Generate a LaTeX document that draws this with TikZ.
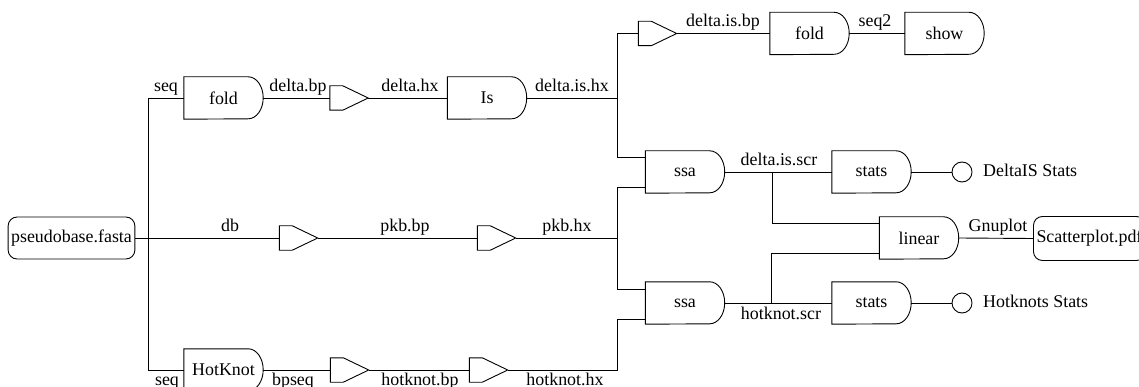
\documentclass[tikz,border=0pt]{standalone}
\usepackage{fontspec}
\setmainfont{Liberation Serif}
\begin{document}
\begin{tikzpicture}[x=1pt,y=-1pt,
  every node/.style={font=\fontsize{17.9}{20}\selectfont, inner sep=0pt},
  box/.style={minimum width=79pt, minimum height=42pt},
  conv/.style={minimum width=38pt, minimum height=24pt},
  file/.style={draw, line width=0.9pt, rounded corners=9pt, minimum height=42pt, inner xsep=3pt},
  lab/.style={anchor=base},
  wire/.style={line width=0.9pt},
  outline/.style={line width=0.9pt},
  term/.style={circle, draw, line width=0.9pt, minimum size=20pt}
]
\useasboundingbox (0,0) rectangle (1139,387);

% nodes
\node[file, minimum width=125pt] (src) at (71.5,238) {pseudobase.fasta};
\node[box] (fold1) at (223.5,98) {fold};
\node[conv] (cd) at (349,98) {};
\node[box] (is) at (487,98) {Is};
\node[conv] (ct) at (657.5,33.5) {};
\node[box] (fold2) at (809.5,33.5) {fold};
\node[box] (show) at (944.5,33.5) {show};
\node[box] (ssa1) at (685,172) {ssa};
\node[box] (stats1) at (871.5,172) {stats};
\node[term] (c1) at (962,172) {};
\node[anchor=base west] (t1) at (983,177) {DeltaIS Stats};
\node[box] (linear) at (919,238) {linear};
\node[file, minimum width=112pt, minimum height=44pt, anchor=west] (scat) at (1033,238.5) {Scatterplot.pdf};
\node[conv] (cdb) at (298.5,238) {};
\node[conv] (cpkb) at (496.5,238) {};
\node[box] (ssa2) at (685,303) {ssa};
\node[box] (stats2) at (871.5,303) {stats};
\node[term] (c2) at (962,303) {};
\node[anchor=base west] (t2) at (983,307) {Hotknots Stats};
\node[box] (hk) at (223.5,370) {HotKnot};
\node[conv] (ch1) at (349.5,370) {};
\node[conv] (ch2) at (488.5,370) {};

% outlines
\foreach \n in {fold1,is,fold2,show,ssa1,stats1,linear,ssa2,stats2,hk}
  \draw[outline] (\n.north west) -- ([xshift=-15pt]\n.north east)
    arc[start angle=90,end angle=-90,x radius=15pt,y radius=21pt]
    -- (\n.south west) -- cycle;
\foreach \n in {cd,ct,cdb,cpkb,ch1,ch2}
  \draw[outline] (\n.north west) -- ([xshift=13pt]\n.north west) -- (\n.east)
    -- ([xshift=13pt]\n.south west) -- (\n.south west) -- cycle;

% connectors
\coordinate (j1) at (148,238);
\coordinate (j2) at (617,98);
\coordinate (j3) at (617,238);
\coordinate (j4) at (617,370);
\coordinate (j5) at (772,172);
\coordinate (j6) at (771,303);
\draw[wire] (src.east) -- (cdb.west);
\draw[wire] (j1) |- (fold1.west);
\draw[wire] (j1) |- (hk.west);
\draw[wire] (fold1.east) -- (cd.west);
\draw[wire] (cd.east) -- (is.west);
\draw[wire] (is.east) -- (j2);
\draw[wire] (j2) |- (ct.west);
\draw[wire] (j2) |- ([yshift=15pt]ssa1.west);
\draw[wire] (ct.east) -- (fold2.west);
\draw[wire] (fold2.east) -- (show.west);
\draw[wire] (cdb.east) -- (cpkb.west);
\draw[wire] (cpkb.east) -- (j3);
\draw[wire] (j3) |- ([yshift=-15pt]ssa1.west);
\draw[wire] (j3) |- ([yshift=14pt]ssa2.west);
\draw[wire] (hk.east) -- (ch1.west);
\draw[wire] (ch1.east) -- (ch2.west);
\draw[wire] (ch2.east) -- (j4) |- ([yshift=-16pt]ssa2.west);
\draw[wire] (ssa1.east) -- (stats1.west);
\draw[wire] (j5) |- ([yshift=15pt]linear.west);
\draw[wire] (ssa2.east) -- (stats2.west);
\draw[wire] (j6) |- ([yshift=-15pt]linear.west);
\draw[wire] (stats1.east) -- (c1.west);
\draw[wire] (stats2.east) -- (c2.west);
\draw[wire] (linear.east) -- (scat.west);

% labels
\node[lab] (l1) at (166,92) {seq};
\node[lab] (l2) at (298,92) {delta.bp};
\node[lab] (l3) at (410,92) {delta.hx};
\node[lab] (l4) at (572,92) {delta.is.hx};
\node[lab] (l5) at (723,27) {delta.is.bp};
\node[lab] (l6) at (875,27) {seq2};
\node[lab] (l7) at (779,166) {delta.is.scr};
\node[lab] (l8) at (998,232) {Gnuplot};
\node[lab] (l9) at (230,232) {db};
\node[lab] (l10) at (405,232) {pkb.bp};
\node[lab] (l11) at (567,232) {pkb.hx};
\node[lab] (l12) at (781,319) {hotknot.scr};
\node[lab] (l13) at (167,385) {seq};
\node[lab] (l14) at (293,385) {bpseq};
\node[lab] (l15) at (420,385) {hotknot.bp};
\node[lab] (l16) at (565,385) {hotknot.hx};
\end{tikzpicture}
\end{document}
